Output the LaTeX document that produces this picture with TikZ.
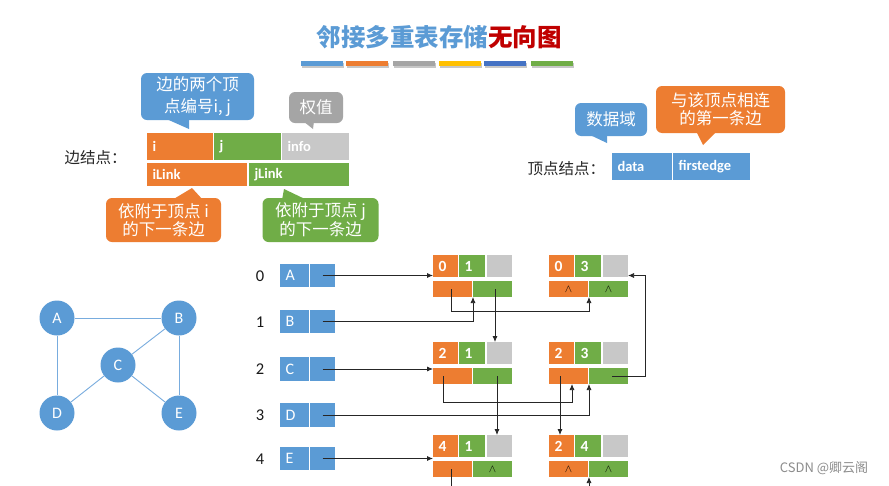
\documentclass[tikz,border=0pt]{standalone}
\usepackage{fontspec}
\setmainfont{Carlito}
\newfontfamily\cjk{Noto Sans CJK SC}
\usetikzlibrary{arrows.meta,calc}
\definecolor{cblue}{RGB}{91,155,213}
\definecolor{corange}{RGB}{237,125,49}
\definecolor{cgreen}{RGB}{112,173,71}
\definecolor{cgray}{RGB}{165,165,165}
\definecolor{clgray}{RGB}{200,200,200}
\definecolor{cyellow}{RGB}{255,192,0}
\definecolor{cdblue}{RGB}{68,114,196}
\definecolor{cred}{RGB}{192,0,0}
\definecolor{cedge}{RGB}{120,172,222}

\newcommand{\mycell}[8]{%
  \pgfmathsetmacro{\mycw}{(#4)-(#2)}%
  \pgfmathsetmacro{\mych}{(#5)-(#3)}%
  \pgfmathsetmacro{\mytw}{(#4)-(#2)-11}%
  \node[cellbase,fill=#6,minimum width=\mycw pt,minimum height=\mych pt,text width=\mytw pt,#7] (#1) at ({((#2)+(#4))/2},{((#3)+(#5))/2}) {#8};}

\newcommand{\enode}[7]{%
  \mycell{#1i}{#2}{#3}{#2+25}{#3+22}{corange}{}{#4}%
  \mycell{#1j}{#2+26}{#3}{#2+52}{#3+22}{cgreen}{}{#5}%
  \mycell{#1w}{#2+54}{#3}{#2+79}{#3+22}{clgray}{}{}%
  \mycell{#1iL}{#2}{#3+26}{#2+39}{#3+42}{corange}{caretcell}{#6}%
  \mycell{#1jL}{#2+40}{#3+26}{#2+79}{#3+42}{cgreen}{caretcell}{#7}}

\newcommand{\caret}{{\fontsize{11}{11}\selectfont$\wedge$}}

\tikzset{
  cellbase/.style={inner xsep=5.5pt,inner ysep=0pt,outer sep=0pt,align=left,text=white,
    font=\fontsize{15.5}{15.5}\selectfont\bfseries},
  caretcell/.style={align=center,text=black},
  legcell/.style={font=\fontsize{14.5}{14.5}\selectfont\bfseries},
  vcell/.style={font=\fontsize{16}{16}\selectfont},
  callout/.style={rounded corners=6pt,inner sep=0pt,text=white,align=center},
  gnode/.style={circle,fill=cblue,minimum size=35pt,inner sep=0pt,text=white,font=\fontsize{16}{16}\selectfont},
  gedge/.style={draw=cedge,line width=0.9pt},
  rowlab/.style={font=\fontsize{16.5}{16.5}\selectfont,text=black!90},
  arr/.style={draw=black!85,line width=0.75pt,-{Latex[length=6pt,width=5pt]}},
  ln/.style={draw=black!85,line width=0.75pt},
}

\begin{document}
\begin{tikzpicture}[x=1pt,y=-1pt]
\useasboundingbox (0,0) rectangle (889,485);
\fill[white] (0,0) rectangle (889,485);

% title
\node[font=\cjk\bfseries\fontsize{24.5}{24.5}\selectfont] (title) at (439,37)
  {\textcolor{cblue}{邻接多重表存储}\textcolor{cred}{无向图}};

% colour bars
\foreach \a/\b/\c in {301/343/cblue,346/388/corange,393/435/cgray,439/481/cyellow,484/526/cdblue,531/573/cgreen}{
  \fill[black!22] (\a+1,62.5) rectangle (\b+1,67.5);
  \fill[\c] (\a,61) rectangle (\b,66);
}

% edge-node legend
\node[anchor=west,font=\cjk\fontsize{15.5}{15.5}\selectfont,text=black!85] (lab1) at (61,158) {边结点：};
\mycell{li}{147}{133}{213}{160}{corange}{legcell}{i}
\mycell{lj}{214}{133}{281}{160}{cgreen}{legcell}{j}
\mycell{linfo}{282}{133}{349}{160}{clgray}{legcell}{info}
\mycell{liL}{147}{163}{247}{186}{corange}{legcell}{iLink}
\mycell{ljL}{249}{163}{349}{186}{cgreen}{legcell}{jLink}

% callouts (edge node)
\fill[cblue] (162,117) -- (189,129) -- (189,117) -- cycle;
\node[callout,fill=cblue,minimum width=113pt,minimum height=47pt,font=\cjk\fontsize{16.5}{21.5}\selectfont] (cb1) at (197.5,96.5) {边的两个顶\\点编号i, j};
\fill[cgray] (303,121) -- (313,129) -- (314,121) -- cycle;
\node[callout,fill=cgray,minimum width=54pt,minimum height=31pt,font=\cjk\fontsize{16.5}{16.5}\selectfont] (cg1) at (316,107.5) {权值};
\fill[corange] (172,200) -- (192,188) -- (203,200) -- cycle;
\node[callout,fill=corange,minimum width=115pt,minimum height=44pt,font=\cjk\fontsize{16.5}{17.5}\selectfont] (co1) at (163.5,220) {依附于顶点 i\\的下一条边};
\fill[cgreen] (282,200) -- (284,189) -- (307,200) -- cycle;
\node[callout,fill=cgreen,minimum width=116pt,minimum height=44pt,font=\cjk\fontsize{16.5}{17.5}\selectfont] (cgr1) at (320.5,220) {依附于顶点 j\\的下一条边};

% vertex-node legend
\node[anchor=west,font=\cjk\fontsize{15.5}{15.5}\selectfont,text=black!85] (lab2) at (524,169) {顶点结点：};
\mycell{vdata}{612}{153}{672}{180}{cblue}{legcell}{data}
\mycell{vfirst}{673}{153}{750}{180}{cblue}{legcell}{firstedge}
\fill[cblue] (588,134) -- (607,143) -- (607,134) -- cycle;
\node[callout,fill=cblue,minimum width=72pt,minimum height=33pt,font=\cjk\fontsize{16.5}{16.5}\selectfont] (cb2) at (611,119.5) {数据域};
\fill[corange] (696,131) -- (703,145) -- (717,131) -- cycle;
\node[callout,fill=corange,minimum width=129pt,minimum height=47pt,font=\cjk\fontsize{16.5}{18}\selectfont] (co2) at (720.5,109.5) {与该顶点相连\\的第一条边};

% graph
\node[gnode] (gA) at (57,318) {A};
\node[gnode] (gB) at (179,318) {B};
\node[gnode] (gC) at (118,365) {C};
\node[gnode] (gD) at (57,413) {D};
\node[gnode] (gE) at (179,413) {E};
\draw[gedge] (gA) -- (gB);
\draw[gedge] (gA) -- (gD);
\draw[gedge] (gB) -- (gC);
\draw[gedge] (gB) -- (gE);
\draw[gedge] (gC) -- (gD);
\draw[gedge] (gC) -- (gE);

% vertex list
\node[rowlab] (r0) at (260,276) {0};
\node[rowlab] (r1) at (260,322) {1};
\node[rowlab] (r2) at (260,369) {2};
\node[rowlab] (r3) at (260,415) {3};
\node[rowlab] (r4) at (260,459) {4};
\mycell{vA1}{280}{264}{309}{287}{cblue}{vcell}{A}
\mycell{vA2}{310}{264}{335}{287}{cblue}{}{}
\mycell{vB1}{280}{310}{309}{333}{cblue}{vcell}{B}
\mycell{vB2}{310}{310}{335}{333}{cblue}{}{}
\mycell{vC1}{280}{357}{309}{381}{cblue}{vcell}{C}
\mycell{vC2}{310}{357}{335}{381}{cblue}{}{}
\mycell{vD1}{280}{403}{309}{427}{cblue}{vcell}{D}
\mycell{vD2}{310}{403}{335}{427}{cblue}{}{}
\mycell{vE1}{280}{447}{309}{470}{cblue}{vcell}{E}
\mycell{vE2}{310}{447}{335}{470}{cblue}{}{}

% edge nodes
\enode{e01}{433}{255}{0}{1}{}{}
\enode{e03}{549}{255}{0}{3}{\caret}{\caret}
\enode{e21}{433}{342}{2}{1}{}{}
\enode{e23}{549}{342}{2}{3}{}{}
\enode{e41}{433}{435}{4}{1}{}{\caret}
\enode{e24}{549}{435}{2}{4}{\caret}{\caret}

% connectors
\draw[arr] (vA2.center) -- (vA2.center -| e01i.west);
\draw[arr] (vB2.center) -| (e01jL.south west);
\draw[arr] ([xshift=-1.5pt]e01iL.center) |- ([yshift=-14pt]e03jL.south west) -- (e03jL.south west);
\draw[arr] ([xshift=2.5pt]e01jL.center) -- ([xshift=2.5pt]e01jL.center |- e21w.north);
\draw[arr] (vC2.center) -- (vC2.center -| e21i.west);
\draw[arr] ([xshift=-9.5pt]e21iL.center) |- ([xshift=3.5pt,yshift=-18pt]e23iL.south) -- ([xshift=3.5pt]e23iL.south);
\draw[arr] ([xshift=4.5pt]e21jL.center) -- ([xshift=4.5pt]e21jL.center |- e41w.north);
\draw[arr] (vD2.center) -| (e23jL.south west);
\draw[arr] ([xshift=-8.5pt]e23iL.center) -- ([xshift=-8.5pt]e23iL.center |- e24i.north);
\draw[arr] ([xshift=3.5pt]e23jL.center) -| ([xshift=17pt,yshift=-9.5pt]e03w.east) -- ([yshift=-9.5pt]e03w.east);
\draw[arr] (vE2.center) -- (vE2.center -| e41i.west);
\coordinate (outA) at (451,486);
\draw[ln] ([xshift=-1.5pt]e41iL.center) -- ([xshift=-1.5pt]e41iL.center |- outA);
\coordinate (inB) at (589,486);
\draw[arr] (inB) -- (e24jL.south west);

% watermark
\node[font=\cjk\fontsize{13}{13}\selectfont,text=black!45] (wm) at (824,468) {CSDN @卿云阁};
\end{tikzpicture}
\end{document}
